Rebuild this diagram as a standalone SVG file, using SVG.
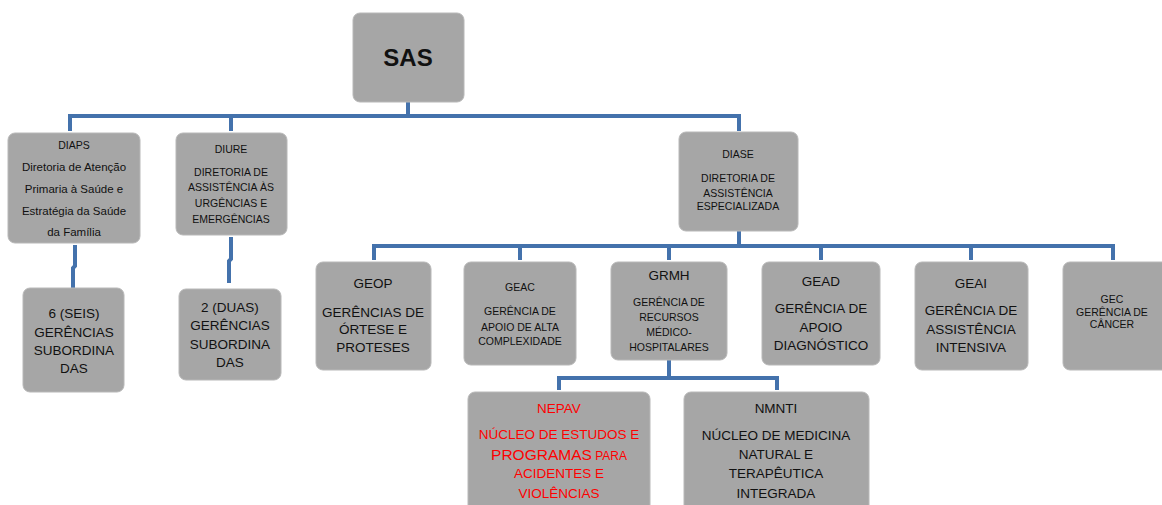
<svg xmlns="http://www.w3.org/2000/svg" width="1162" height="505" viewBox="0 0 1162 505" xml:space="preserve">
<style>
.box{fill:#A6A6A6;stroke:#B8B8B8;stroke-width:1}
.con{fill:none;stroke:#4472AC;stroke-width:4;stroke-linejoin:miter}
text{font-family:"Liberation Sans",Arial,sans-serif;fill:#111;text-anchor:middle}
.s{font-size:10.5px}
.m{font-size:11.5px}
.l{font-size:13.5px}
.r{fill:#FF0000}
</style>
<rect width="1162" height="505" fill="#FFFFFF"/>
<g id="connectors">
<path class="con" d="M408 102V116M70 131V116H739V131"/>
<path class="con" d="M231 116V131"/>
<path class="con" d="M75 245V266L73 268V288"/>
<path class="con" d="M231 237V259L229 261V283"/>
<path class="con" d="M739 231V246M374 260V246H1113V260M520 246V260M669 246V260M821 246V260M971 246V260"/>
<path class="con" d="M669 360V378M559 390V378H777V390"/>
</g>
<g id="SAS">
<rect class="box" x="353" y="13" width="111" height="89" rx="7"/>
<text x="408" y="66" style="font-size:24px;font-weight:bold">SAS</text>
</g>
<g id="DIAPS">
<rect class="box" x="8" y="133" width="132" height="110" rx="7"/>
<text class="s" x="74" y="149">DIAPS</text>
<text class="m" x="74" y="171">Diretoria  de Atenção</text>
<text class="m" x="74" y="193">Primaria  à Saúde  e</text>
<text class="m" x="74" y="215">Estratégia  da Saúde</text>
<text class="m" x="74" y="236">da  Família</text>
</g>
<g id="DIURE">
<rect class="box" x="176" y="133" width="111" height="102" rx="7"/>
<text class="s" x="231" y="153">DIURE</text>
<text class="s" x="231" y="176">DIRETORIA DE</text>
<text class="s" x="231" y="191">ASSISTÊNCIA ÀS</text>
<text class="s" x="231" y="207">URGÊNCIAS  E</text>
<text class="s" x="231" y="223">EMERGÊNCIAS</text>
</g>
<g id="DIAPS_SUB">
<rect class="box" x="23" y="288" width="101" height="104" rx="7"/>
<text class="l" x="74" y="318">6 (SEIS)</text>
<text class="l" x="74" y="337">GERÊNCIAS</text>
<text class="l" x="74" y="355">SUBORDINA</text>
<text class="l" x="74" y="373">DAS</text>
</g>
<g id="DIURE_SUB">
<rect class="box" x="179" y="289" width="102" height="91" rx="7"/>
<text class="l" x="230" y="312">2 (DUAS)</text>
<text class="l" x="230" y="330">GERÊNCIAS</text>
<text class="l" x="230" y="349">SUBORDINA</text>
<text class="l" x="230" y="367">DAS</text>
</g>
<g id="DIASE">
<rect class="box" x="679" y="132" width="119" height="99" rx="7"/>
<text class="s" x="738" y="158">DIASE</text>
<text class="s" x="738" y="182">DIRETORIA DE</text>
<text class="s" x="738" y="197">ASSISTÊNCIA</text>
<text class="s" x="738" y="210">ESPECIALIZADA</text>
</g>
<g id="GEOP">
<rect class="box" x="316" y="262" width="115" height="108" rx="7"/>
<text class="l" x="373" y="288">GEOP</text>
<text class="l" x="373" y="317">GERÊNCIAS DE</text>
<text class="l" x="373" y="334">ÓRTESE E</text>
<text class="l" x="373" y="352">PROTESES</text>
</g>
<g id="GEAC">
<rect class="box" x="464" y="262" width="112" height="103" rx="7"/>
<text class="s" x="520" y="291">GEAC</text>
<text class="s" x="520" y="315">GERÊNCIA  DE</text>
<text class="s" x="520" y="331">APOIO DE ALTA</text>
<text class="s" x="520" y="345">COMPLEXIDADE</text>
</g>
<g id="GRMH">
<rect class="box" x="611" y="262" width="116" height="98" rx="7"/>
<text class="l" x="669" y="280">GRMH</text>
<text class="s" x="669" y="306">GERÊNCIA  DE</text>
<text class="s" x="669" y="321">RECURSOS</text>
<text class="s" x="669" y="336">MÉDICO-</text>
<text class="s" x="669" y="351">HOSPITALARES</text>
</g>
<g id="GEAD">
<rect class="box" x="762" y="262" width="118" height="103" rx="7"/>
<text class="l" x="821" y="286">GEAD</text>
<text class="l" x="821" y="313">GERÊNCIA DE</text>
<text class="l" x="821" y="332">APOIO</text>
<text class="l" x="821" y="350">DIAGNÓSTICO</text>
</g>
<g id="GEAI">
<rect class="box" x="915" y="262" width="113" height="108" rx="7"/>
<text class="l" x="971" y="288">GEAI</text>
<text class="l" x="971" y="315">GERÊNCIA DE</text>
<text class="l" x="971" y="334">ASSISTÊNCIA</text>
<text class="l" x="971" y="352">INTENSIVA</text>
</g>
<g id="GEC">
<rect class="box" x="1063" y="262" width="106" height="108" rx="7"/>
<text class="s" x="1112" y="303">GEC</text>
<text class="s" x="1112" y="316">GERÊNCIA  DE</text>
<text class="s" x="1112" y="328">CÂNCER</text>
</g>
<g id="NEPAV">
<rect class="box" x="468" y="392" width="182" height="125" rx="7"/>
<text class="l r" x="559" y="413">NEPAV</text>
<text class="l r" x="559" y="439">NÚCLEO DE ESTUDOS E</text>
<text class="r" x="559" y="460"><tspan style="font-size:15.5px">PROGRAMAS</tspan><tspan style="font-size:12px"> PARA</tspan></text>
<text class="l r" x="559" y="478">ACIDENTES E</text>
<text class="l r" x="559" y="498">VIOLÊNCIAS</text>
</g>
<g id="NMNTI">
<rect class="box" x="684" y="392" width="185" height="125" rx="7"/>
<text class="l" x="776" y="413">NMNTI</text>
<text class="l" x="776" y="440">NÚCLEO DE MEDICINA</text>
<text class="l" x="776" y="459">NATURAL E</text>
<text class="l" x="776" y="478">TERAPÊUTICA</text>
<text class="l" x="776" y="498">INTEGRADA</text>
</g>
</svg>
